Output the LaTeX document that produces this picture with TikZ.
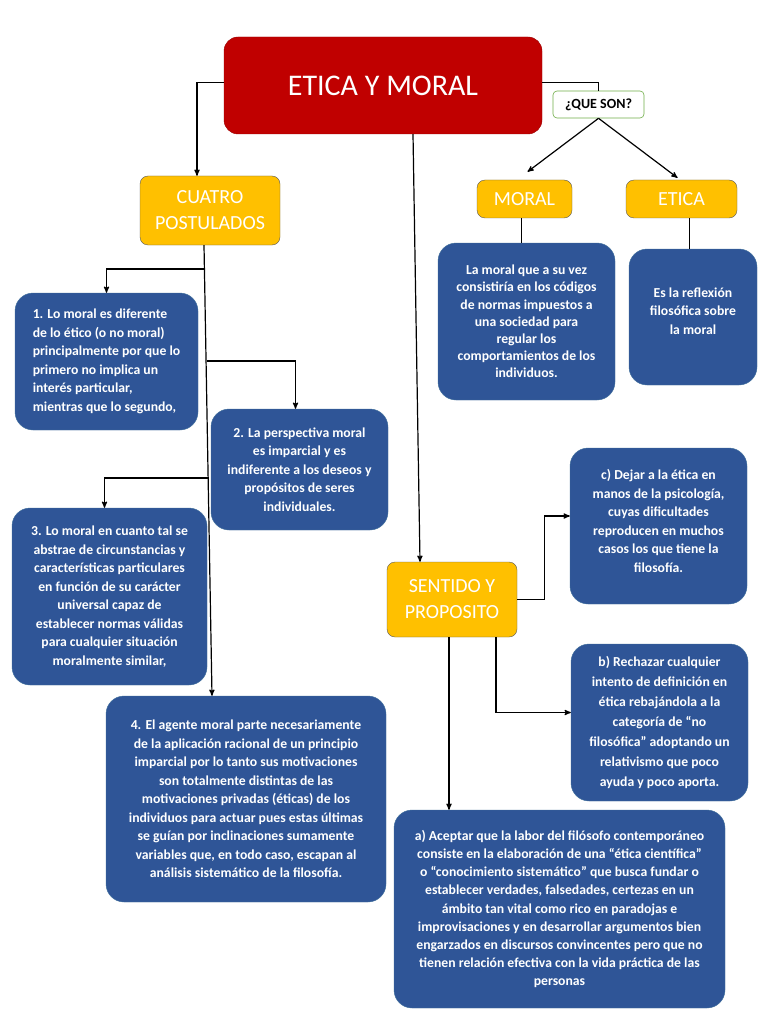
\documentclass[tikz,border=0pt]{standalone}
\usepackage{fontspec}
\setmainfont{Carlito}
\usetikzlibrary{positioning, arrows}
\definecolor{boxblue}{RGB}{47,85,151}
\definecolor{boxedge}{RGB}{65,113,156}
\definecolor{boxyellow}{RGB}{255,192,0}
\definecolor{boxred}{RGB}{192,0,0}
\definecolor{boxgreen}{RGB}{112,173,71}
\tikzset{
titlebox/.style={ % The main red box
draw=boxred!80!black, fill=boxred, rounded corners=14pt,
text=white, font=\fontsize{30}{34}\selectfont},
askbox/.style={ % Small question box
draw=boxgreen, fill=white, rounded corners=4pt, semithick,
font=\bfseries\fontsize{14}{16}\selectfont},
yellowbox/.style={ % Headings
draw=gray!70!black, fill=boxyellow, rounded corners=8pt,
text=white, align=center, font=\fontsize{20}{26}\selectfont},
bluebox/.style={ % Text boxes
draw=boxedge, fill=boxblue, rounded corners=18pt,
text=white, align=center, font=\bfseries\fontsize{13.7}{18.5}\selectfont},
link/.style={ % Connectors
draw, line width=1.2pt, >=stealth'}}
\begin{document}
\begin{tikzpicture}[x=1pt, y=-1pt]
    \useasboundingbox[fill=white] (0,0) rectangle (768,1024);

    % top level
    \node[titlebox, minimum width=318, minimum height=97] (title) at (383,85.5) {ETICA Y MORAL};
    \node[askbox, minimum width=91, minimum height=27] (queson) at (598.5,104.5) {¿QUE SON?};

    % moral and etica
    \node[yellowbox, minimum width=95, minimum height=38] (moral) at (524.5,199) {MORAL};
    \node[yellowbox, minimum width=111, minimum height=38] (etica) at (681.5,199) {ETICA};
    \node[bluebox, minimum width=177, minimum height=157, font=\bfseries\fontsize{13.7}{17.2}\selectfont] (moraltext) at (526.5,321.5)
        {La moral que a su vez\\consistiría en los códigos\\de normas impuestos a\\una sociedad para\\regular los\\comportamientos de los\\individuos.};
    \node[bluebox, minimum width=128, minimum height=136] (eticatext) at (693,317)
        {Es la reflexión\\filosófica sobre\\la moral\\[-6.5pt]};

    % cuatro postulados
    \node[yellowbox, minimum width=140, minimum height=69] (cuatro) at (210,210.5) {CUATRO\\POSTULADOS};
    \node[bluebox, minimum width=183, minimum height=137, align=left] (p1) at (106.5,361.5)
        {1. Lo moral es diferente\\de lo ético (o no moral)\\principalmente por que lo\\primero no implica un\\interés particular,\\mientras que lo segundo,};
    \node[bluebox, minimum width=177, minimum height=121] (p2) at (299.5,469.5)
        {2. La perspectiva moral\\es imparcial y es\\indiferente a los deseos y\\propósitos de seres\\individuales.};
    \node[bluebox, minimum width=195, minimum height=177] (p3) at (109.5,596.5)
        {3. Lo moral en cuanto tal se\\abstrae de circunstancias y\\características particulares\\en función de su carácter\\universal capaz de\\establecer normas válidas\\para cualquier situación\\moralmente similar,};
    \node[bluebox, minimum width=280, minimum height=206] (p4) at (246,799)
        {4. El agente moral parte necesariamente\\de la aplicación racional de un principio\\imparcial por lo tanto sus motivaciones\\son totalmente distintas de las\\motivaciones privadas (éticas) de los\\individuos para actuar pues estas últimas\\se guían por inclinaciones sumamente\\variables que, en todo caso, escapan al\\análisis sistemático de la filosofía.};

    % sentido y proposito
    \node[yellowbox, minimum width=130, minimum height=75] (sentido) at (452,599.5) {SENTIDO Y\\PROPOSITO};
    \node[bluebox, minimum width=177, minimum height=156] (optc) at (658.5,526)
        {c) Dejar a la ética en\\manos de la psicología,\\cuyas dificultades\\reproducen en muchos\\casos los que tiene la\\filosofía.\\[-8pt]};
    \node[bluebox, minimum width=177, minimum height=157, font=\bfseries\fontsize{13.7}{20}\selectfont] (optb) at (659.5,722.5)
        {b) Rechazar cualquier\\intento de definición en\\ética rebajándola a la\\categoría de “no\\filosófica” adoptando un\\relativismo que poco\\ayuda y poco aporta.};
    \node[bluebox, minimum width=331, minimum height=198, font=\bfseries\fontsize{13.7}{18.1}\selectfont] (opta) at (559.5,909)
        {a) Aceptar que la labor del filósofo contemporáneo\\consiste en la elaboración de una “ética científica”\\o “conocimiento sistemático” que busca fundar o\\establecer verdades, falsedades, certezas en un\\ámbito tan vital como rico en paradojas e\\improvisaciones y en desarrollar argumentos bien\\engarzados en discursos convincentes pero que no\\tienen relación efectiva con la vida práctica de las\\personas};

    % branch points on the trunk
    \coordinate (b1) at (205,269);
    \coordinate (b2) at (207,361);
    \coordinate (b3) at (209,478);

    % connectors
    \draw[link] ([yshift=3]title.east) -| (queson.north);
    \draw[link,->] (queson.south) -- ([xshift=3,yshift=8]moral.north);
    \draw[link,->] (queson.south) -- ([xshift=-4,yshift=2]etica.north);
    \draw[link] ([xshift=-3]moral.south) -- ([xshift=-3]moral.south |- moraltext.north);
    \draw[link] ([xshift=8]etica.south) -- ([xshift=8]etica.south |- eticatext.north);

    \draw[link,->] ([yshift=3]title.west) -| ([xshift=-13]cuatro.north);
    \draw[link,->] ([xshift=-6]cuatro.south) -- ([xshift=-34]p4.north);
    \draw[link,->] (b1) -| (p1.north);
    \draw[link,->] (b2) -| ([xshift=-4]p2.north);
    \draw[link,->] (b3) -| ([xshift=-5]p3.north);

    \draw[link,->] ([xshift=30]title.south) -- ([xshift=-32]sentido.north);
    \draw[link,->] (sentido.east) -- ++(27,0) |- ([yshift=10]optc.west);
    \draw[link,->] ([xshift=44]sentido.south) |- ([yshift=10]optb.west);
    \draw[link,->] ([xshift=-3]sentido.south) -- ([xshift=-3]sentido.south |- opta.north);

    \end{tikzpicture}
\end{document}
